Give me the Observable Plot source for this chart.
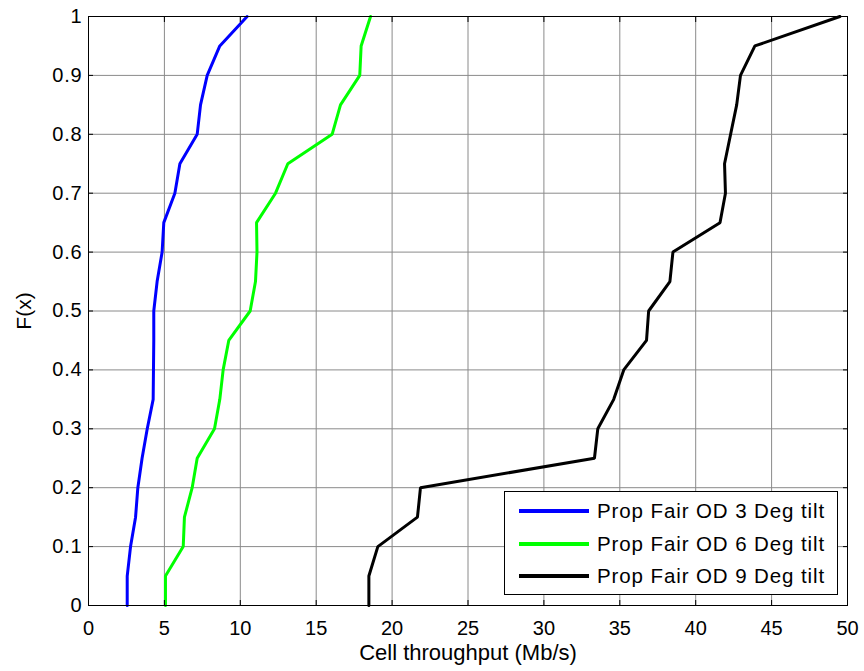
<!DOCTYPE html>
<html>
<head>
<meta charset="utf-8">
<script src="https://cdn.jsdelivr.net/npm/d3@7"></script>
<script src="https://cdn.jsdelivr.net/npm/@observablehq/plot@0.6"></script>
<style>
  html, body { margin: 0; padding: 0; background: #fff; }
  #wrap { position: relative; width: 864px; height: 671px; font-family: "Liberation Sans", Arial, sans-serif; }
  #legend { position: absolute; left: 504px; top: 491px; width: 334px; height: 104px;
            border: 1px solid #000; background: #fff; box-sizing: border-box; }
  .row { position: absolute; left: 0; height: 30px; display: flex; align-items: center; }
  .row svg { margin-left: 14px; }
  .row span { margin-left: 8px; font-size: 20.5px; letter-spacing: 0.9px; color: #000; }
</style>
</head>
<body>
<div id="wrap"></div>
<script>
const fLevels = [0, 0.05, 0.1, 0.15, 0.2, 0.25, 0.3, 0.35, 0.4, 0.45, 0.5, 0.55, 0.6, 0.65, 0.7, 0.75, 0.8, 0.85, 0.9, 0.95, 1];
const tilt3 = [2.55, 2.55, 2.77, 3.1, 3.25, 3.53, 3.87, 4.26, 4.28, 4.3, 4.3, 4.52, 4.85, 4.96, 5.69, 6.02, 7.16, 7.38, 7.82, 8.65, 10.45];
const tilt6 = [5.07, 5.07, 6.24, 6.32, 6.83, 7.16, 8.3, 8.65, 8.87, 9.24, 10.65, 11.0, 11.1, 11.07, 12.32, 13.13, 16.05, 16.6, 17.87, 17.96, 18.58];
const tilt9 = [18.47, 18.47, 19.06, 21.67, 21.87, 33.33, 33.55, 34.6, 35.26, 36.76, 36.9, 38.3, 38.5, 41.6, 41.96, 41.9, 42.3, 42.7, 42.95, 43.9, 49.5];
const seriesNames = ["Prop Fair OD 3 Deg tilt", "Prop Fair OD 6 Deg tilt", "Prop Fair OD 9 Deg tilt"];
const seriesColors = ["#0000ff", "#00ff00", "#000000"];
const xTicks = [0, 5, 10, 15, 20, 25, 30, 35, 40, 45, 50];
const yTicks = [0, 0.1, 0.2, 0.3, 0.4, 0.5, 0.6, 0.7, 0.8, 0.9, 1];
const xLabel = "Cell throughput (Mb/s)";
const yLabel = "F(x)";

const seriesValues = [tilt3, tilt6, tilt9];
const rows = [];
seriesValues.forEach((vals, i) => vals.forEach((v, j) => rows.push({series: seriesNames[i], x: v, y: fLevels[j]})));

const fmt = d => String(d);

const chart = Plot.plot({
  width: 864,
  height: 671,
  marginLeft: 88,
  marginRight: 17,
  marginTop: 16,
  marginBottom: 66,
  style: {fontFamily: "Liberation Sans, Arial, sans-serif", background: "#fff", color: "#000"},
  x: {domain: [0, 50]},
  y: {domain: [0, 1]},
  color: {domain: seriesNames, range: seriesColors},
  marks: [
    Plot.gridX(xTicks, {stroke: "#8a8a8a", strokeOpacity: 1, strokeWidth: 1}),
    Plot.gridY(yTicks, {stroke: "#8a8a8a", strokeOpacity: 1, strokeWidth: 1}),
    Plot.line(rows, {x: "x", y: "y", z: "series", stroke: "series", strokeWidth: 3, strokeLinejoin: "miter"}),
    Plot.frame({stroke: "#000", strokeWidth: 1}),
    Plot.axisX(xTicks, {anchor: "bottom", tickSize: -5, tickPadding: 20, tickFormat: fmt, label: xLabel, labelAnchor: "center", labelOffset: 54, fontSize: 20, stroke: "#000"}),
    Plot.axisX(xTicks, {anchor: "top", tickSize: -5, tickFormat: () => "", label: null, stroke: "#000"}),
    Plot.axisY(yTicks, {anchor: "left", tickSize: -5, tickPadding: 11, tickFormat: fmt, label: yLabel, labelAnchor: "center", labelOffset: 72, fontSize: 20, stroke: "#000"}),
    Plot.axisY(yTicks, {anchor: "right", tickSize: -5, tickFormat: () => "", label: null, stroke: "#000"})
  ]
});

const svg = d3.select(chart);
svg.selectAll("g[aria-label='y-axis tick label'] text").style("letter-spacing", "0.8px");
svg.selectAll("g[aria-label='x-axis label'] text, g[aria-label='y-axis label'] text")
  .each(function() {
    const t = d3.select(this);
    const isX = t.text().includes("Cell");
    t.selectAll("tspan").remove();
    t.text(isX ? xLabel : yLabel).style("font-size", isX ? "22px" : "21px");
  });

const wrap = document.getElementById("wrap");
wrap.appendChild(chart);

const legend = document.createElement("div");
legend.id = "legend";
seriesNames.forEach((name, i) => {
  const row = document.createElement("div");
  row.className = "row";
  row.style.top = (4 + i * 32.5) + "px";
  row.innerHTML = `<svg width="70" height="8"><line x1="0" x2="70" y1="4" y2="4" stroke="${seriesColors[i]}" stroke-width="4"/></svg><span>${name}</span>`;
  legend.appendChild(row);
});
wrap.appendChild(legend);
</script>
</body>
</html>
